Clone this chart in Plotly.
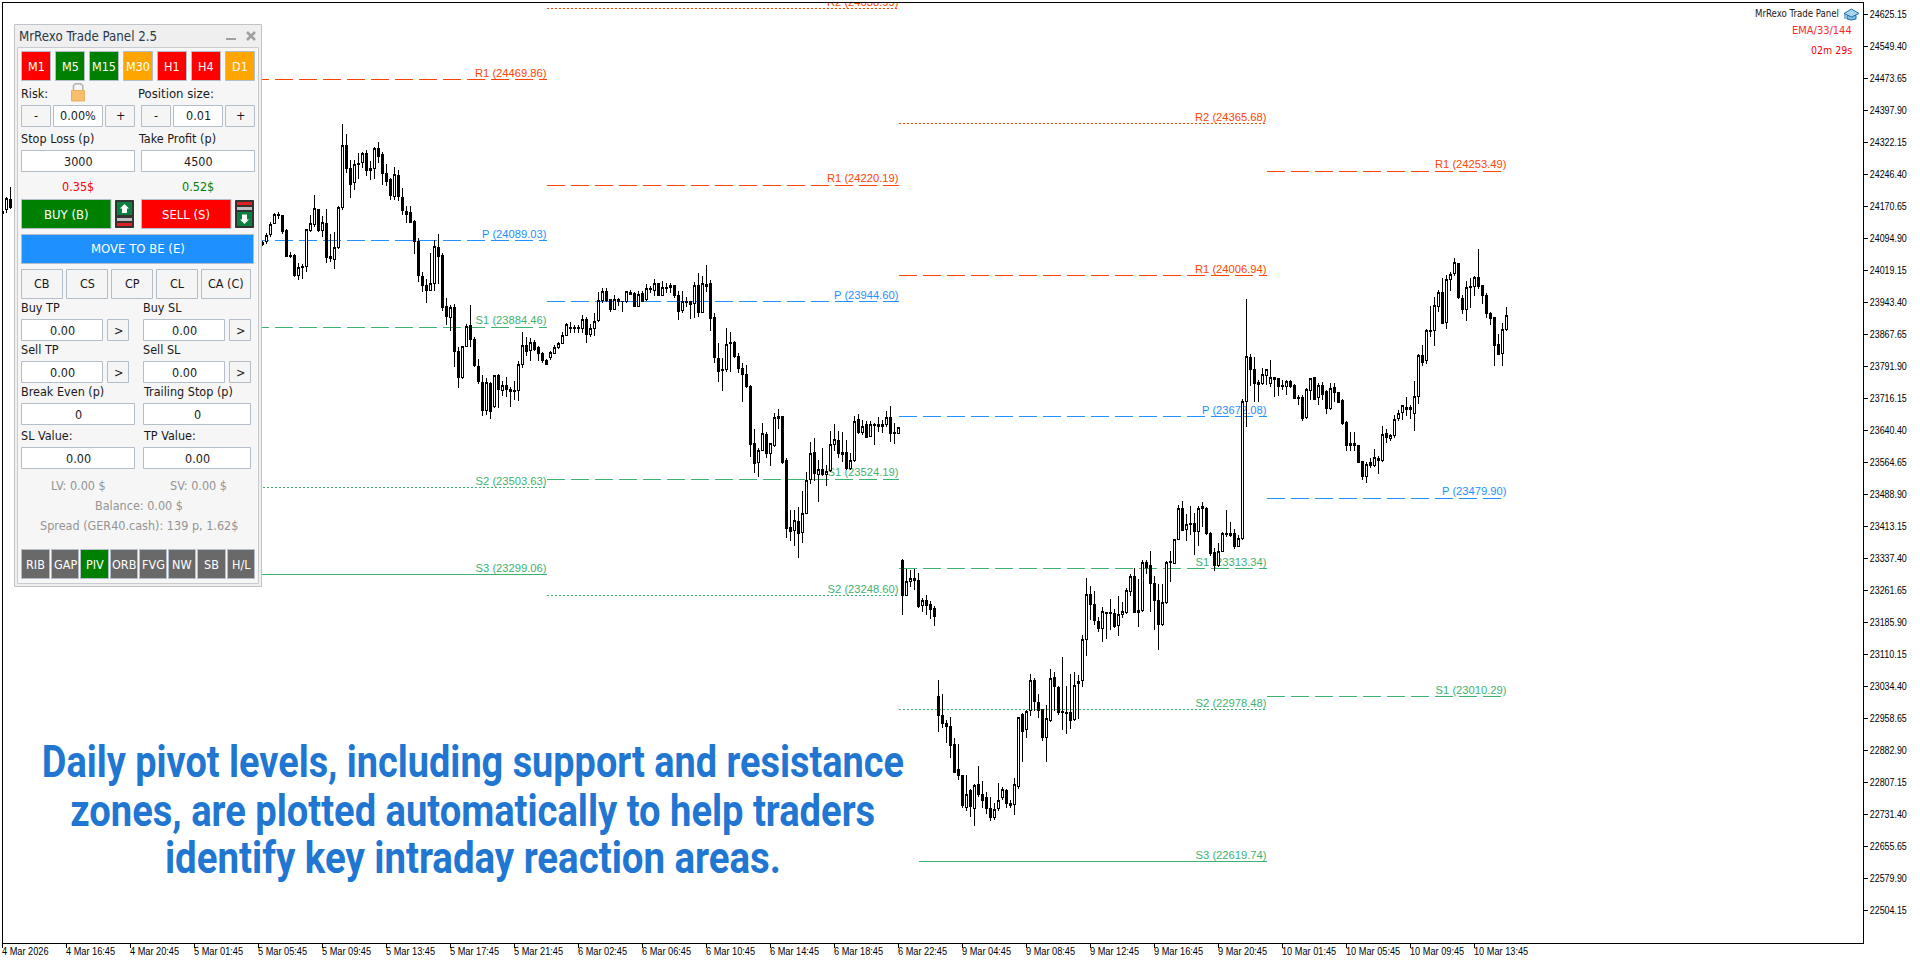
import plotly.graph_objects as go

W, H = 1920, 963
PLOT_L, PLOT_R, PLOT_T, PLOT_B = 2.5, 1862.5, 2.5, 942.5

# M15 bars of GER40.cash; bars 3-64 sit under the trade panel and are left out
bar_index = [0, 1, 2] + list(range(65, 377))
opens = [
    24154, 24164, 24187,
    24080, 24086, 24103, 24129, 24151, 24149, 24114, 24053, 24055, 24006,
    24029, 24027, 24113, 24128, 24163, 24113, 24130, 24052, 24044, 24072,
    24167, 24315, 24259, 24226, 24272, 24274, 24296, 24255, 24260, 24308,
    24292, 24248, 24233, 24193, 24244, 24192, 24158, 24155, 24135, 24088,
    24005, 23984, 23971, 23987, 24074, 24053, 23934, 23908, 23930, 23827,
    23765, 23839, 23888, 23855, 23792, 23754, 23687, 23751, 23696, 23770,
    23734, 23747, 23737, 23735, 23735, 23795, 23841, 23830, 23848, 23835,
    23822, 23806, 23812, 23822, 23836, 23845, 23865, 23881, 23882, 23882,
    23880, 23903, 23867, 23881, 23899, 23947, 23969, 23950, 23927, 23949,
    23946, 23945, 23967, 23964, 23933, 23963, 23949, 23977, 23971, 23988,
    23959, 23979, 23978, 23984, 23960, 23923, 23946, 23944, 23941, 23983,
    23920, 23986, 23987, 23908, 23811, 23784, 23783, 23849, 23849, 23815,
    23787, 23773, 23745, 23609, 23564, 23593, 23631, 23585, 23604, 23668,
    23674, 23568, 23411, 23403, 23425, 23398, 23444, 23523, 23587, 23535,
    23548, 23535, 23545, 23606, 23617, 23587, 23587, 23550, 23568, 23665,
    23635, 23655, 23625, 23651, 23650, 23649, 23653, 23671, 23636, 23632,
    23333, 23248, 23282, 23289, 23285, 23225, 23237, 23228, 23218, 23011,
    22966, 22947, 22939, 22896, 22838, 22824, 22747, 22787, 22746, 22802,
    22778, 22771, 22745, 22723, 22746, 22772, 22788, 22757, 22754, 22797,
    22967, 22933, 22976, 23048, 22996, 22979, 22912, 22954, 23056, 23032,
    22974, 22973, 22971, 22955, 23041, 23047, 23145, 23252, 23228, 23187,
    23171, 23206, 23210, 23206, 23177, 23203, 23210, 23258, 23294, 23214,
    23214, 23327, 23321, 23277, 23238, 23180, 23232, 23327, 23325, 23382,
    23456, 23405, 23418, 23420, 23400, 23459, 23456, 23396, 23351, 23320,
    23353, 23393, 23391, 23396, 23366, 23384, 23708, 23813, 23785, 23748,
    23751, 23769, 23751, 23761, 23762, 23747, 23744, 23755, 23747, 23716,
    23717, 23670, 23734, 23766, 23718, 23747, 23732, 23691, 23741, 23729,
    23710, 23658, 23604, 23608, 23604, 23567, 23530, 23563, 23558, 23574,
    23568, 23633, 23620, 23628, 23669, 23683, 23695, 23690, 23680, 23720,
    23818, 23805, 23875, 23876, 23933, 23967, 23895, 23996, 24011, 24035,
    23952, 23925, 23979, 23980, 24002, 23983, 23959, 23917, 23907, 23843, 23821, 23878,
]
highs = [
    24170, 24193, 24217,
    24089, 24108, 24133, 24155, 24158, 24150, 24116, 24063, 24057, 24037,
    24035, 24116, 24150, 24196, 24163, 24147, 24164, 24105, 24110, 24170,
    24365, 24342, 24279, 24280, 24296, 24299, 24304, 24278, 24310, 24322,
    24300, 24270, 24237, 24264, 24256, 24213, 24170, 24170, 24138, 24095,
    24016, 23999, 24059, 24090, 24105, 24061, 23953, 23936, 23939, 23838,
    23840, 23892, 23937, 23860, 23808, 23771, 23763, 23755, 23771, 23773,
    23757, 23767, 23742, 23758, 23804, 23872, 23860, 23858, 23854, 23840,
    23826, 23808, 23829, 23842, 23850, 23874, 23893, 23897, 23889, 23889,
    23913, 23908, 23892, 23919, 23968, 23977, 23977, 23950, 23960, 23953,
    23947, 23969, 23972, 23967, 23969, 23971, 23987, 23982, 23998, 23990,
    23993, 23990, 23988, 23984, 23970, 23969, 23955, 23945, 23991, 24013,
    24005, 24031, 23996, 23917, 23847, 23811, 23882, 23872, 23852, 23822,
    23799, 23795, 23747, 23643, 23598, 23658, 23635, 23609, 23680, 23691,
    23675, 23575, 23452, 23452, 23459, 23497, 23542, 23613, 23623, 23570,
    23598, 23558, 23639, 23655, 23639, 23637, 23617, 23586, 23674, 23679,
    23665, 23661, 23661, 23658, 23671, 23665, 23687, 23698, 23658, 23649,
    23335, 23313, 23309, 23312, 23303, 23244, 23250, 23236, 23224, 23050,
    23017, 22954, 22961, 22911, 22897, 22825, 22824, 22792, 22802, 22845,
    22811, 22784, 22772, 22757, 22805, 22795, 22792, 22766, 22816, 22962,
    22971, 22978, 23064, 23054, 23015, 22980, 22989, 23076, 23067, 23035,
    23103, 23034, 23063, 23067, 23060, 23155, 23290, 23272, 23259, 23199,
    23222, 23210, 23242, 23216, 23247, 23234, 23266, 23299, 23315, 23289,
    23333, 23333, 23354, 23295, 23277, 23276, 23330, 23355, 23382, 23463,
    23473, 23442, 23461, 23444, 23461, 23471, 23459, 23399, 23361, 23373,
    23399, 23452, 23422, 23406, 23392, 23714, 23951, 23820, 23813, 23759,
    23787, 23785, 23807, 23767, 23762, 23759, 23759, 23759, 23749, 23724,
    23724, 23740, 23765, 23766, 23751, 23755, 23736, 23751, 23753, 23731,
    23714, 23661, 23635, 23635, 23605, 23568, 23564, 23574, 23596, 23579,
    23650, 23643, 23631, 23676, 23688, 23700, 23720, 23700, 23757, 23821,
    23842, 23879, 23934, 23955, 23972, 24001, 24007, 24015, 24047, 24036,
    23960, 23993, 24001, 24005, 24069, 23985, 23966, 23921, 23907, 23868, 23893, 23931,
]
lows = [
    24142, 24154, 24164,
    24076, 24081, 24097, 24128, 24140, 24104, 24050, 24047, 24004, 23997,
    23998, 24016, 24110, 24122, 24110, 24098, 24036, 24039, 24023, 24069,
    24162, 24250, 24191, 24210, 24235, 24260, 24242, 24233, 24236, 24272,
    24220, 24218, 24185, 24185, 24183, 24151, 24132, 24132, 24058, 23991,
    23968, 23942, 23970, 23971, 23986, 23923, 23889, 23876, 23789, 23741,
    23762, 23837, 23838, 23791, 23750, 23674, 23676, 23668, 23692, 23692,
    23721, 23720, 23696, 23712, 23710, 23788, 23816, 23805, 23827, 23805,
    23799, 23795, 23807, 23821, 23833, 23844, 23863, 23870, 23871, 23870,
    23870, 23848, 23862, 23863, 23897, 23942, 23945, 23920, 23925, 23934,
    23921, 23942, 23960, 23931, 23931, 23943, 23946, 23966, 23959, 23959,
    23959, 23964, 23964, 23953, 23902, 23919, 23933, 23904, 23905, 23909,
    23919, 23968, 23876, 23800, 23755, 23734, 23779, 23779, 23812, 23775,
    23708, 23741, 23578, 23538, 23530, 23591, 23575, 23556, 23601, 23643,
    23561, 23385, 23379, 23367, 23337, 23374, 23442, 23513, 23521, 23471,
    23533, 23509, 23542, 23592, 23574, 23566, 23546, 23546, 23565, 23631,
    23628, 23621, 23624, 23605, 23637, 23633, 23649, 23613, 23608, 23631,
    23202, 23247, 23270, 23263, 23219, 23210, 23202, 23194, 23177, 22926,
    22936, 22900, 22865, 22829, 22812, 22745, 22739, 22724, 22704, 22772,
    22746, 22733, 22716, 22717, 22739, 22765, 22747, 22747, 22729, 22791,
    22855, 22912, 22963, 22976, 22958, 22905, 22855, 22949, 22975, 22966,
    22930, 22921, 22934, 22952, 22956, 23033, 23105, 23191, 23179, 23163,
    23139, 23146, 23167, 23173, 23153, 23195, 23206, 23248, 23208, 23175,
    23210, 23301, 23210, 23167, 23120, 23177, 23229, 23282, 23324, 23381,
    23403, 23379, 23392, 23345, 23367, 23412, 23392, 23343, 23308, 23317,
    23351, 23388, 23388, 23360, 23365, 23381, 23649, 23744, 23706, 23707,
    23747, 23747, 23742, 23720, 23721, 23736, 23724, 23740, 23714, 23699,
    23662, 23668, 23712, 23712, 23700, 23712, 23679, 23688, 23706, 23706,
    23652, 23591, 23591, 23591, 23562, 23523, 23516, 23552, 23554, 23537,
    23564, 23611, 23615, 23621, 23663, 23665, 23674, 23666, 23639, 23702,
    23792, 23796, 23862, 23840, 23921, 23892, 23880, 23970, 24006, 23952,
    23915, 23899, 23930, 23959, 23974, 23940, 23906, 23889, 23793, 23818, 23793, 23876,
]
closes = [
    24157, 24189, 24167,
    24085, 24102, 24127, 24151, 24148, 24110, 24051, 24051, 24006, 24026,
    24026, 24116, 24130, 24166, 24113, 24132, 24049, 24046, 24073, 24168,
    24315, 24259, 24223, 24270, 24269, 24296, 24255, 24259, 24308, 24289,
    24248, 24228, 24196, 24246, 24193, 24160, 24152, 24133, 24087, 24006,
    23983, 23972, 23988, 24076, 24051, 23932, 23909, 23932, 23826, 23765,
    23838, 23886, 23856, 23793, 23755, 23686, 23754, 23684, 23770, 23737,
    23747, 23736, 23732, 23731, 23796, 23841, 23826, 23848, 23831, 23822,
    23805, 23797, 23825, 23837, 23846, 23865, 23891, 23883, 23884, 23884,
    23903, 23866, 23882, 23898, 23948, 23969, 23947, 23925, 23950, 23945,
    23945, 23969, 23962, 23934, 23962, 23945, 23977, 23974, 23987, 23960,
    23979, 23977, 23984, 23959, 23921, 23946, 23943, 23939, 23983, 23919,
    23988, 23980, 23904, 23812, 23779, 23781, 23844, 23845, 23815, 23786,
    23772, 23744, 23606, 23562, 23593, 23633, 23585, 23608, 23671, 23674,
    23565, 23407, 23400, 23427, 23397, 23444, 23522, 23586, 23537, 23548,
    23535, 23543, 23607, 23619, 23585, 23584, 23549, 23569, 23661, 23635,
    23650, 23623, 23654, 23654, 23653, 23655, 23671, 23632, 23633, 23647,
    23250, 23282, 23289, 23284, 23224, 23237, 23225, 23217, 23200, 22966,
    22945, 22938, 22895, 22829, 22822, 22751, 22778, 22749, 22800, 22777,
    22765, 22746, 22723, 22742, 22764, 22790, 22756, 22751, 22802, 22960,
    22926, 22974, 23048, 22997, 22978, 22914, 22958, 23053, 23033, 22972,
    22971, 22970, 22954, 23036, 23045, 23146, 23251, 23228, 23189, 23172,
    23211, 23208, 23206, 23176, 23205, 23211, 23261, 23294, 23210, 23210,
    23327, 23316, 23277, 23238, 23180, 23232, 23327, 23329, 23382, 23456,
    23404, 23418, 23420, 23400, 23456, 23455, 23396, 23349, 23320, 23353,
    23395, 23396, 23396, 23365, 23385, 23709, 23815, 23785, 23750, 23754,
    23773, 23785, 23766, 23764, 23745, 23743, 23755, 23745, 23715, 23717,
    23669, 23736, 23763, 23714, 23747, 23724, 23691, 23740, 23729, 23707,
    23656, 23604, 23609, 23604, 23565, 23530, 23560, 23557, 23576, 23568,
    23631, 23623, 23628, 23666, 23680, 23698, 23690, 23693, 23721, 23818,
    23800, 23876, 23877, 23936, 23967, 23894, 23997, 24009, 24037, 23954,
    23925, 23978, 23981, 24002, 23980, 23959, 23916, 23906, 23840, 23820, 23879, 23912,
]
assert len(opens) == len(highs) == len(lows) == len(closes) == len(bar_index)

# Daily pivot levels: (name, price, first bar, last bar)
pivot_levels = [
    ("R1", 24469.86, 62, 136), ("P", 24089.03, 62, 136), ("S1", 23884.46, 62, 136),
    ("S2", 23503.63, 62, 136), ("S3", 23299.06, 62, 136),
    ("R2", 24638.99, 136, 224), ("R1", 24220.19, 136, 224), ("P", 23944.60, 136, 224),
    ("S1", 23524.19, 136, 224), ("S2", 23248.60, 136, 224),
    ("R2", 24365.68, 224, 316), ("R1", 24006.94, 224, 316), ("P", 23672.08, 224, 316),
    ("S1", 23313.34, 224, 316), ("S2", 22978.48, 224, 316), ("S3", 22619.74, 229, 316),
    ("R1", 24253.49, 316, 376), ("P", 23479.90, 316, 376), ("S1", 23010.29, 316, 376),
]
level_colors = {"R": "#FF4500", "P": "#1E90FF", "S": "#3CB371"}
level_dash = {"1": "18px,6px", "2": "2px,2px", "3": "solid", "": "18px,6px"}

price_ticks = [round(24625.15 - 75.75 * k, 2) for k in range(29)]
time_tick_bars = list(range(0, 369, 16))
time_tick_labels = [
    "4 Mar 2026", "4 Mar 16:45", "4 Mar 20:45", "5 Mar 01:45", "5 Mar 05:45", "5 Mar 09:45",
    "5 Mar 13:45", "5 Mar 17:45", "5 Mar 21:45", "6 Mar 02:45", "6 Mar 06:45", "6 Mar 10:45",
    "6 Mar 14:45", "6 Mar 18:45", "6 Mar 22:45", "9 Mar 04:45", "9 Mar 08:45", "9 Mar 12:45",
    "9 Mar 16:45", "9 Mar 20:45", "10 Mar 01:45", "10 Mar 05:45", "10 Mar 09:45", "10 Mar 13:45",
]

AXIS_FONT = "Liberation Sans"
UI_FONT = "DejaVu Sans Condensed"
LEVEL_FONT = "Liberation Sans"
CAPTION_FONT = "Roboto"

fx = lambda px: px / W
fy = lambda py: 1 - py / H
price_at = lambda py: 24658.76 - 2.3672 * py
bar_range = [(PLOT_L - 2.5) / 4, (PLOT_R - 2.5) / 4]
price_range = [price_at(PLOT_B), price_at(PLOT_T)]

fig = go.Figure()

# Level lines and their labels go on the primary axes, so the candles stay on top
for name, price, first, last in pivot_levels:
    color = level_colors[name[0]]
    fig.add_trace(go.Scatter(
        x=[first, last], y=[price, price], mode="lines",
        line=dict(color=color, width=1, dash=level_dash[name[1:]]),
        hoverinfo="skip", showlegend=False, xaxis="x", yaxis="y"))
    fig.add_trace(go.Scatter(
        x=[last], y=[price], mode="text", text=[f"{name} ({price:.2f})"],
        textposition="top left", textfont=dict(family=LEVEL_FONT, size=11.2, color=color),
        hoverinfo="skip", showlegend=False, xaxis="x", yaxis="y"))

fig.add_trace(go.Candlestick(
    x=bar_index, open=opens, high=highs, low=lows, close=closes,
    increasing=dict(line=dict(color="#000000", width=1), fillcolor="#FFFFFF"),
    decreasing=dict(line=dict(color="#000000", width=1), fillcolor="#000000"),
    whiskerwidth=0, hoverinfo="skip", showlegend=False, xaxis="x2", yaxis="y2"))

shapes, notes = [], []


def rect(x0, y0, x1, y1, fill, line=None, width=1):
    shapes.append(dict(
        type="rect", xref="paper", yref="paper", layer="above",
        x0=fx(x0), x1=fx(x1), y0=fy(y0), y1=fy(y1), fillcolor=fill,
        line=dict(color=line or fill, width=width if line else 0)))


def poly(points, fill="rgba(0,0,0,0)", line=None, width=1, close=True):
    path = "M " + " L ".join(f"{fx(x):.5f},{fy(y):.5f}" for x, y in points) + (" Z" if close else "")
    shapes.append(dict(
        type="path", xref="paper", yref="paper", layer="above", path=path, fillcolor=fill,
        line=dict(color=line or fill, width=width if line else 0)))


def text(x, y, s, color="#1A1A1A", size=12.5, anchor="left", family=UI_FONT, weight=400):
    notes.append(dict(
        xref="paper", yref="paper", x=fx(x), y=fy(y), text=s,
        showarrow=False, xanchor=anchor, yanchor="middle", borderpad=0, borderwidth=0,
        font=dict(family=family, size=size, color=color, weight=weight)))


BORDER = "#B4BEC8"


def button(x0, y0, x1, y1, s, fill="#F5F5F5", color="#1A1A1A", size=12.5):
    rect(x0, y0, x1, y1, fill, BORDER)
    text((x0 + x1) / 2, (y0 + y1) / 2, s, color, size, "center")


# Trade panel frame and title
rect(14.5, 24.5, 261.5, 586.5, "#EFEFEF", "#C0C4C8")
rect(17.5, 47.5, 258.5, 583.5, "#F6F6F6", "#C8CCD0")
text(18.5, 36, "MrRexo Trade Panel 2.5", "#2A3A4A", 13.2)
rect(226, 38, 236, 40, "#A0A0A0")
poly([(247, 32), (255, 40)], line="#A0A0A0", width=2.5, close=False)
poly([(255, 32), (247, 40)], line="#A0A0A0", width=2.5, close=False)

# Timeframe buttons
timeframes = ["M1", "M5", "M15", "M30", "H1", "H4", "D1"]
tf_fills = ["#FF0000", "#008000", "#008000", "#FFA500", "#FF0000", "#FF0000", "#FFA500"]
for k, (tf, col) in enumerate(zip(timeframes, tf_fills)):
    button(21.5 + 34 * k, 51.5, 50.5 + 34 * k, 80.5, tf, col, "#FFFFFF", 12.5)

# Risk and lot size
text(20.5, 94, "Risk:")
text(138, 94, "Position size:", size=13)
poly([(73.5, 90), (73.5, 85.5), (75.5, 83.8), (80.5, 83.8), (82.8, 85.5), (82.8, 90)], line="#B0B0B0", width=1.5, close=False)
rect(71.5, 90.5, 84.5, 101, "#F8BE6C", "#E8B060")
for x0, x1, s, f in [(21.5, 50.5, "-", "#F5F5F5"), (53.5, 102.5, "0.00%", "#FFFFFF"), (105.5, 134.5, "+", "#F5F5F5"),
                     (141.5, 170.5, "-", "#F5F5F5"), (173.5, 222.5, "0.01", "#FFFFFF"), (225.5, 254.5, "+", "#F5F5F5")]:
    button(x0, 105.5, x1, 126.5, s, f)

text(20.5, 139, "Stop Loss (p)")
text(138, 139, "Take Profit (p)")
button(21.5, 150.5, 134.5, 171.5, "3000", "#FFFFFF")
button(141.5, 150.5, 254.5, 171.5, "4500", "#FFFFFF")
text(78, 186, "0.35$", "#FF0000", 12.5, "center")
text(198, 186, "0.52$", "#008000", 12.5, "center")

# Order buttons with their small SL/TP markers
button(21.5, 199.5, 111, 228.5, "BUY (B)", "#008000", "#FFFFFF", 13)
button(141.5, 199.5, 231, 228.5, "SELL (S)", "#FF0000", "#FFFFFF", 13)
rect(115.5, 200.5, 133.5, 227.5, "#333333", "#333333")
rect(117, 202, 132, 215, "#0A8040")
rect(117, 218, 132, 221, "#C0C0C0")
rect(117, 223, 132, 226, "#E02020")
poly([(124.5, 204), (129, 208.5), (127, 208.5), (127, 213), (122, 213), (122, 208.5), (120, 208.5)], "#FFFFFF")
rect(235.5, 200.5, 253.5, 227.5, "#333333", "#333333")
rect(237, 202, 252, 205, "#E02020")
rect(237, 207, 252, 210, "#C0C0C0")
rect(237, 212, 252, 226, "#0A8040")
poly([(244.5, 224), (240, 219.5), (242, 219.5), (242, 214.5), (247, 214.5), (247, 219.5), (249, 219.5)], "#FFFFFF")
button(21.5, 234.5, 253.5, 263.5, "MOVE TO BE (E)", "#1E90FF", "#FFFFFF", 13)

# Close buttons
for x0, x1, s in [(21.5, 62.5, "CB"), (66.5, 107.5, "CS"), (111.5, 152.5, "CP"), (156.5, 197.5, "CL"), (201.5, 250.5, "CA (C)")]:
    button(x0, 269.5, x1, 298.5, s)

# Take profit / stop loss fields
for label_y, y0, left, right in [(307.5, 319.5, "Buy TP", "Buy SL"), (349.5, 361.5, "Sell TP", "Sell SL")]:
    text(20.5, label_y, left)
    text(142.5, label_y, right)
    button(21.5, y0, 102.5, y0 + 21, "0.00", "#FFFFFF")
    button(107.5, y0, 128.5, y0 + 21, "&gt;")
    button(143.5, y0, 224.5, y0 + 21, "0.00", "#FFFFFF")
    button(229.5, y0, 250.5, y0 + 21, "&gt;")
text(20.5, 391.5, "Break Even (p)")
text(142.5, 391.5, "Trailing Stop (p)")
button(21.5, 403.5, 134.5, 424.5, "0", "#FFFFFF")
button(143.5, 403.5, 250.5, 424.5, "0", "#FFFFFF")
text(20.5, 435.5, "SL Value:")
text(142.5, 435.5, "TP Value:")
button(21.5, 447.5, 134.5, 468.5, "0.00", "#FFFFFF")
button(143.5, 447.5, 250.5, 468.5, "0.00", "#FFFFFF")

# Account read-outs
GREY = "#949494"
text(78, 485.5, "LV: 0.00 $", GREY, 12.5, "center")
text(198.5, 485.5, "SV: 0.00 $", GREY, 12.5, "center")
text(139, 505.5, "Balance: 0.00 $", GREY, 12.5, "center")
text(139, 525.5, "Spread (GER40.cash): 139 p, 1.62$", GREY, 12.5, "center")

# Indicator toggles
toggles = [(21.5, 49.5, "RIB"), (51.5, 78.5, "GAP"), (80.5, 108.5, "PIV"), (110.5, 137.5, "ORB"),
           (139.5, 166.5, "FVG"), (168.5, 195.5, "NW"), (197.5, 225.5, "SB"), (227.5, 254.5, "H/L")]
for x0, x1, s in toggles:
    button(x0, 549.5, x1, 578.5, s, "#008000" if s == "PIV" else "#696969", "#FFFFFF", 12.5)

# Corner info block
text(1839, 13.5, "MrRexo Trade Panel", "#1A1A1A", 9.6, "right")
text(1852, 30, "EMA/33/144", "#FF2A2A", 11, "right")
text(1852, 50, "02m 29s", "#FF0000", 10.5, "right")
poly([(1847, 15.5), (1847, 19), (1851.5, 20), (1856, 19), (1856, 15.5)], "#7DBBE6", "#1F6FB0")
poly([(1844, 13.5), (1851.5, 9), (1859, 13.5), (1851.5, 17)], "#A8D4F0", "#1F6FB0")
poly([(1845, 14), (1845, 19)], line="#1F6FB0", close=False)

# Caption
caption = ["Daily pivot levels, including support and resistance",
           "zones, are plotted automatically to help traders",
           "identify key intraday reaction areas."]
caption_widths = [862, 805, 616]
for line_y, line in zip([761.5, 810.5, 858], caption):
    text(472.5, line_y, line, "#2176D2", 44, "center", CAPTION_FONT, 700)

# Time axis labels start at their tick, so they are left-anchored
for bar, label in zip(time_tick_bars, time_tick_labels):
    notes.append(dict(
        xref="x", yref="paper", x=bar, y=fy(951), text=label, showarrow=False, xanchor="left",
        yanchor="middle", borderpad=0, xshift=-2, font=dict(family=AXIS_FONT, size=11.5, color="#000000")))

fig.update_layout(
    width=W, height=H, autosize=False, margin=dict(l=0, r=0, t=0, b=0),
    paper_bgcolor="#FFFFFF", plot_bgcolor="#FFFFFF", showlegend=False, boxgap=0.5,
    xaxis=dict(domain=[fx(PLOT_L), fx(PLOT_R)], range=bar_range, tickmode="array", tickvals=time_tick_bars,
               ticks="outside", ticklen=4, tickcolor="#000000", tickwidth=1, showticklabels=False,
               showgrid=False, zeroline=False, showline=True, linecolor="#000000", linewidth=1, mirror=True,
               rangeslider=dict(visible=False)),
    yaxis=dict(domain=[fy(PLOT_B), fy(PLOT_T)], range=price_range, side="right", tickmode="array",
               tickvals=price_ticks, ticktext=[f"{p:.2f}" for p in price_ticks],
               ticks="outside", ticklen=4, tickcolor="#000000", tickwidth=1,
               tickfont=dict(family=AXIS_FONT, size=11.5, color="#000000"),
               showgrid=False, zeroline=False, showline=True, linecolor="#000000", linewidth=1, mirror=True),
    xaxis2=dict(overlaying="x", range=bar_range, visible=False, rangeslider=dict(visible=False)),
    yaxis2=dict(overlaying="y", range=price_range, visible=False),
    shapes=shapes, annotations=notes,
)

# No condensed bold face is installed, so narrow the caption and axis labels in the drawn SVG,
# and keep candle and level strokes on whole pixels. Date labels are centred on their anchor,
# so after narrowing they move left to stay flush with the tick.
post_js = """
var fit = function (el, width) {
  el.setAttribute('textLength', width);
  el.setAttribute('lengthAdjust', 'spacingAndGlyphs');
};
var captionWidths = %s;
document.querySelectorAll('.annotation-text').forEach(function (el) {
  var s = el.textContent;
  if (captionWidths[s]) { fit(el, captionWidths[s]); }
  else if (/^\\d+ Mar \\d/.test(s)) {
    var w = el.getComputedTextLength();
    fit(el, w * 0.8);
    el.setAttribute('x', parseFloat(el.getAttribute('x')) - w * 0.1);
  }
});
document.querySelectorAll('.ytick text').forEach(function (el) { fit(el, 37); });
document.querySelectorAll('.boxlayer path, .scatterlayer .js-line').forEach(function (el) {
  el.style.shapeRendering = 'crispEdges';
});
""" % ("{" + ", ".join(f'"{s}": {w}' for s, w in zip(caption, caption_widths)) + "}")

fig.write_html("out.html", config=dict(displayModeBar=False, responsive=False), post_script=post_js)
